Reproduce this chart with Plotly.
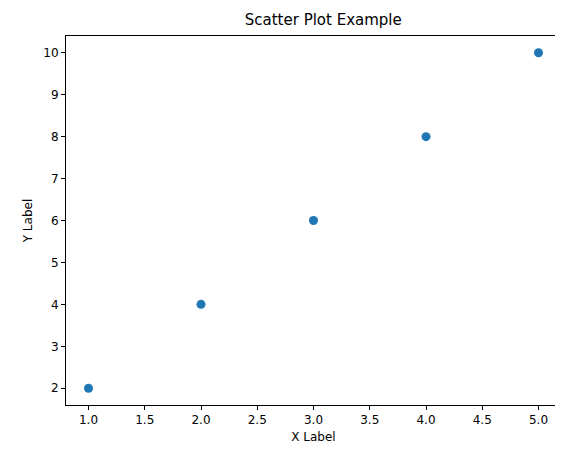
import plotly.graph_objects as go

x_values = [1, 2, 3, 4, 5]
y_values = [2, 4, 6, 8, 10]

fig = go.Figure()
fig.add_trace(go.Scatter(x=x_values, y=y_values, mode="markers",
                         marker=dict(color="#1f77b4", size=9)))

axis_style = dict(showgrid=False, zeroline=False, showline=True, mirror=True,
                  linecolor="black", linewidth=1, ticks="outside", ticklen=4,
                  tickcolor="black", tickfont=dict(size=12, color="black"),
                  automargin=False)

fig.update_layout(
    width=563, height=453,
    margin=dict(l=58, r=10, t=28, b=56, autoexpand=False),
    plot_bgcolor="white", paper_bgcolor="white",
    font=dict(family="DejaVu Sans", color="black"),
    title=dict(text="Scatter Plot Example", x=0.56, xanchor="center",
               y=0.985, yanchor="top", font=dict(size=15)),
    showlegend=False,
)
fig.update_xaxes(range=[0.8, 5.2], dtick=0.5, tickformat=".1f",
                 title=dict(text="X Label", font=dict(size=12), standoff=6), **axis_style)
fig.update_yaxes(range=[1.6, 10.4], dtick=1,
                 title=dict(text="Y Label", font=dict(size=12), standoff=8), **axis_style)

fig.write_html("out.html")
